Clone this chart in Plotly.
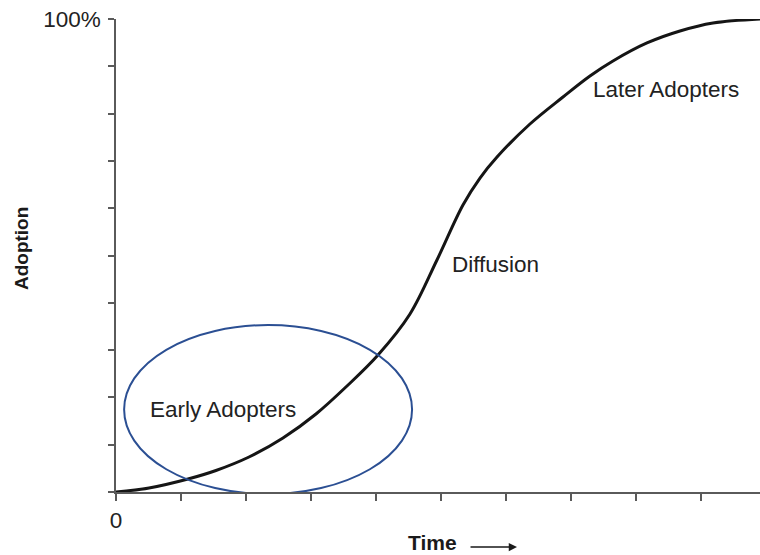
import plotly.graph_objects as go

# ---- data ----
time_vals = [0.0, 0.508, 1.108, 1.538, 2.046, 2.569, 3.077, 3.554, 4.031, 4.523,
             4.938, 5.338, 5.6, 5.862, 6.369, 6.877, 7.292, 7.646, 8.169, 8.677, 9.185, 9.908]
adoption_vals = [0.0, 0.85, 2.75, 4.55, 7.40, 11.42, 16.49, 22.41, 28.96, 37.63,
                 49.05, 60.68, 66.38, 70.82, 77.80, 83.51, 87.95, 91.12, 94.93, 97.46, 99.15, 100.0]

x_tick_vals = list(range(0, 10))
x_tick_text = ["0"] + [""] * 9
y_tick_vals = list(range(0, 101, 10))
y_tick_text = [""] * 10 + ["100%"]

labels = ["Early Adopters", "Diffusion", "Later Adopters"]
label_x = [1.646, 5.846, 8.46]
label_y = [17.34, 48.0, 85.2]

# highlighted early-adopter region (data units)
early_cx, early_cy, early_rx, early_ry = 2.34, 17.44, 2.215, 17.86

FONT = "Liberation Sans, Arial, sans-serif"
AXIS_COLOR = "#5a5a5a"
TEXT_SIZE = 22.5

fig = go.Figure()
fig.add_trace(go.Scatter(
    x=time_vals, y=adoption_vals, mode="lines",
    line=dict(color="#151515", width=3, shape="spline", smoothing=1.0),
    cliponaxis=False, hoverinfo="skip", showlegend=False))

fig.add_shape(type="circle", xref="x", yref="y",
              x0=early_cx - early_rx, x1=early_cx + early_rx,
              y0=early_cy - early_ry, y1=early_cy + early_ry,
              line=dict(color="#2b4f93", width=2))

for t, lx, ly in zip(labels, label_x, label_y):
    fig.add_annotation(x=lx, y=ly, xref="x", yref="y", text=t, showarrow=False,
                       xanchor="center", yanchor="middle",
                       font=dict(family=FONT, size=TEXT_SIZE, color="#222222"))

fig.add_annotation(x=-0.1475, y=0.5137, xref="paper", yref="paper", text="<b>Adoption</b>",
                   textangle=-90, showarrow=False, xanchor="center", yanchor="middle",
                   font=dict(family=FONT, size=19, color="#1a1a1a"))
fig.add_annotation(x=0.4907, y=-0.1078, xref="paper", yref="paper", text="<b>Time</b>",
                   showarrow=False, xanchor="center", yanchor="middle",
                   font=dict(family=FONT, size=21, color="#1a1a1a"))
fig.add_annotation(x=0.6227, y=-0.1163, xref="paper", yref="paper", text="",
                   showarrow=True, axref="pixel", ayref="pixel", ax=-48, ay=0,
                   arrowhead=2, arrowsize=1.1, arrowwidth=1.5, arrowcolor="#1a1a1a")

fig.update_layout(
    width=760, height=555, autosize=False,
    margin=dict(l=116, r=0, t=19, b=63),
    paper_bgcolor="white", plot_bgcolor="white",
    font=dict(family=FONT, size=TEXT_SIZE, color="#222222"),
    xaxis=dict(range=[0, 9.908], showgrid=False, zeroline=False,
               showline=True, linecolor=AXIS_COLOR, linewidth=1.5,
               ticks="outside", ticklen=7, tickwidth=1.5, tickcolor=AXIS_COLOR,
               tickvals=x_tick_vals, ticktext=x_tick_text,
               tickfont=dict(family=FONT, size=TEXT_SIZE, color="#222222"), fixedrange=True),
    yaxis=dict(range=[0, 100], showgrid=False, zeroline=False,
               showline=True, linecolor=AXIS_COLOR, linewidth=1.5,
               ticks="outside", ticklen=6, tickwidth=1.5, tickcolor=AXIS_COLOR,
               tickvals=y_tick_vals, ticktext=y_tick_text, ticklabelstandoff=3,
               tickfont=dict(family=FONT, size=TEXT_SIZE, color="#222222"), fixedrange=True),
)

fig.write_html(
    "out.html",
    config={"responsive": False, "displayModeBar": False},
    post_script="document.body.style.margin='0';document.body.style.padding='0';"
                "document.body.style.overflow='hidden';",
)
